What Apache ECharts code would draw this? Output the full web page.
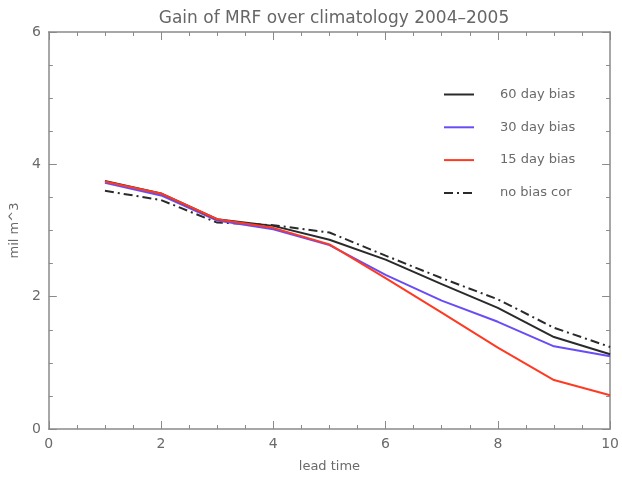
<!DOCTYPE html>
<html>
<head>
<meta charset="utf-8">
<script src="https://cdn.jsdelivr.net/npm/echarts@6/dist/echarts.min.js"></script>
<style>html,body{margin:0;padding:0;background:#fff}#c{width:622px;height:478px}</style>
</head>
<body>
<div id="c"></div>
<script>
const leadTimes = [1, 2, 3, 4, 5, 6, 7, 8, 9, 10];
const bias60 = [3.75, 3.56, 3.17, 3.07, 2.86, 2.56, 2.19, 1.83, 1.39, 1.13];
const bias30 = [3.72, 3.53, 3.15, 3.02, 2.78, 2.33, 1.94, 1.62, 1.25, 1.10];
const bias15 = [3.74, 3.56, 3.17, 3.04, 2.79, 2.28, 1.76, 1.23, 0.74, 0.51];
const noBias = [3.60, 3.46, 3.12, 3.08, 2.97, 2.62, 2.28, 1.96, 1.53, 1.24];
const seriesNames = ['60 day bias', '30 day bias', '15 day bias', 'no bias cor'];
const titleText = 'Gain of MRF over climatology 2004\u20132005';

const pair = arr => leadTimes.map((x, i) => [x, arr[i]]);
const font = 'DejaVu Sans';
const grey = '#6a6a6a';
const axisCol = '#8a8a8a';

function axisBase(show) {
  return {
    axisLine: { show: true, onZero: false, lineStyle: { color: axisCol, width: 1.5 } },
    axisTick: { show: true, inside: true, length: 8, lineStyle: { color: axisCol, width: 1 } },
    minorTick: { show: true, splitNumber: 4, length: 4, lineStyle: { color: axisCol, width: 1 } },
    splitLine: { show: false },
    axisLabel: { show: show, color: grey, fontFamily: font, fontSize: 14 }
  };
}

const chart = echarts.init(document.getElementById('c'), null, { renderer: 'canvas' });
chart.setOption({
  animation: false,
  backgroundColor: '#fff',
  title: {
    text: titleText, left: 329, textAlign: 'center', top: 5,
    textStyle: { color: '#666', fontFamily: font, fontSize: 17, fontWeight: 'normal' }
  },
  grid: { left: 45, right: 9, top: 32, bottom: 42, containLabel: false },
  legend: {
    orient: 'vertical', left: 443, top: 88, padding: 0, itemWidth: 30, itemHeight: 14, itemGap: 19.8,
    data: seriesNames,
    itemStyle: { opacity: 0 },
    textStyle: { color: grey, fontFamily: font, fontSize: 13, padding: [0, 0, 0, 21] }
  },
  xAxis: [
    Object.assign(axisBase(true), {
      type: 'value', min: 0, max: 10, interval: 2, position: 'bottom',
      name: 'lead time', nameLocation: 'middle', nameGap: 31,
      nameTextStyle: { color: grey, fontFamily: font, fontSize: 13 }
    }),
    Object.assign(axisBase(false), { type: 'value', min: 0, max: 10, interval: 2, position: 'top' })
  ],
  yAxis: [
    Object.assign(axisBase(true), {
      type: 'value', min: 0, max: 6, interval: 2, position: 'left',
      name: 'mil m^3', nameLocation: 'middle', nameGap: 22,
      nameTextStyle: { color: grey, fontFamily: font, fontSize: 13 }
    }),
    Object.assign(axisBase(false), { type: 'value', min: 0, max: 6, interval: 2, position: 'right' })
  ],
  series: [
    { name: seriesNames[0], type: 'line', data: pair(bias60), symbol: 'none', color: '#2a2a2a',
      lineStyle: { color: '#2a2a2a', width: 2 }, z: 4 },
    { name: seriesNames[1], type: 'line', data: pair(bias30), symbol: 'none', color: '#6a4cf5',
      lineStyle: { color: '#6a4cf5', width: 2 }, z: 3 },
    { name: seriesNames[2], type: 'line', data: pair(bias15), symbol: 'none', color: '#ff3a22',
      lineStyle: { color: '#ff3a22', width: 2 }, z: 5 },
    { name: seriesNames[3], type: 'line', data: pair(noBias), symbol: 'none', color: '#2a2a2a',
      lineStyle: { color: '#2a2a2a', width: 2, type: [9, 4, 2, 4] }, z: 2 }
  ]
});
</script>
</body>
</html>
